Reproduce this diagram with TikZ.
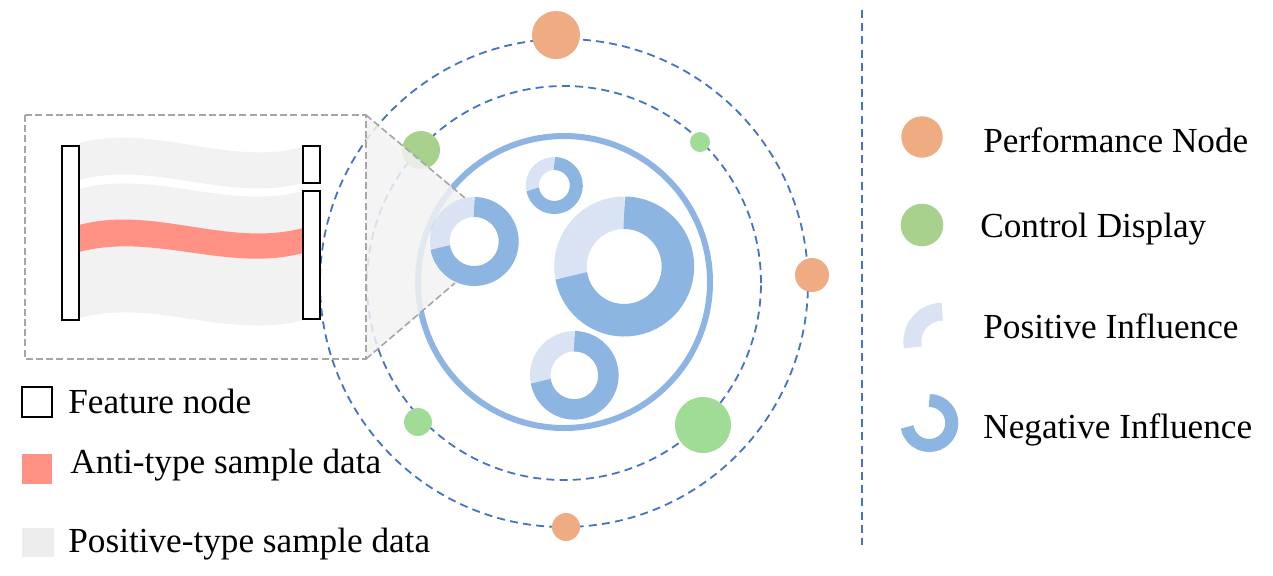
\documentclass[tikz,border=0pt]{standalone}
\usepackage{fontspec}
\setmainfont{Liberation Serif}
\definecolor{orbitblue}{HTML}{4472C4}
\definecolor{ringblue}{HTML}{8DB4E2}
\definecolor{darkdonut}{HTML}{8CB5E1}
\definecolor{lightdonut}{HTML}{DAE3F3}
\definecolor{orangeN}{HTML}{EFAB82}
\definecolor{greenA}{HTML}{A9D18E}
\definecolor{greenB}{HTML}{A1DC96}
\definecolor{redflow}{HTML}{FF9185}
\definecolor{grayflow}{HTML}{F2F2F2}
\definecolor{graylegend}{HTML}{EDEDED}
\definecolor{boxgray}{HTML}{A6A6A6}
\newcommand\mydonut[4]{%
  \pgfmathsetmacro\dmid{(#3+#4)/2}%
  \pgfmathsetmacro\dwid{(#3-#4)*0.5}%
  \draw[lightdonut, line width=\dwid pt] (#1,#2) ++(90:\dmid) arc[start angle=90,end angle=190.5,radius=\dmid];
  \draw[darkdonut, line width=\dwid pt] (#1,#2) ++(190:\dmid) arc[start angle=190,end angle=450,radius=\dmid];
}
\begin{document}
\begin{tikzpicture}[x=0.5pt,y=0.5pt,
  orbit/.style={orbitblue, line width=0.9pt, dash pattern=on 4pt off 2.6pt},
  boxline/.style={boxgray, line width=0.8pt, dash pattern=on 3.5pt off 1.6pt},
  dot/.style={circle, inner sep=0pt, draw=none},
  featurebox/.style={draw=black, fill=white, line width=1.2pt},
  label/.style={anchor=base west, inner sep=0pt, font=\fontsize{17.6pt}{21pt}\selectfont}]
\useasboundingbox (0,0) rectangle (1273,-575);

% orbits
\draw[orbit] (564,-283) circle[radius=244];
\draw[orbit] (564,-283) circle[radius=197];
% big blue ring
\draw[ringblue, line width=3pt] (564,-282) circle[radius=146];

% orbit nodes
\node[dot, fill=orangeN, minimum size=24pt] (p1) at (556,-35) {};
\node[dot, fill=orangeN, minimum size=17pt] (p2) at (812,-275) {};
\node[dot, fill=orangeN, minimum size=14pt] (p3) at (566,-527) {};
\node[dot, fill=greenA, minimum size=19pt] (g1) at (421,-150) {};
\node[dot, fill=greenB, minimum size=10pt] (g2) at (700,-142) {};
\node[dot, fill=greenB, minimum size=14pt] (g3) at (418,-422) {};
\node[dot, fill=greenB, minimum size=28pt] (g4) at (703,-425) {};

% zoom wedge
\coordinate (bxtr) at (366,-115);
\coordinate (bxbr) at (366,-359);
\coordinate (wt) at (465,-198);
\coordinate (wb) at (455,-283);
\fill[grayflow, opacity=0.85] (bxtr) -- (wt) arc[start angle=101.6,end angle=245.1,radius=45] -- (bxbr) -- cycle;
\draw[boxline] (bxtr) -- (wt);
\draw[boxline] (bxbr) -- (wb);

% donuts
\mydonut{554.3}{-185.5}{28.5}{15.5}
\mydonut{474.2}{-241.5}{44.5}{24.5}
\mydonut{624.2}{-266.5}{70}{37.5}
\mydonut{574.3}{-375.3}{44.3}{23.8}

% detail box
\draw[boxline] (25,-115) rectangle (366,-359);
\fill[grayflow] (79,-143) .. controls (154,-123) and (228,-167) .. (303,-147)
  -- (303,-183) .. controls (228,-203) and (154,-160) .. (79,-180) -- cycle;
\fill[grayflow] (79,-189) .. controls (154,-169) and (228,-211) .. (303,-191)
  -- (303,-320) .. controls (228,-340) and (154,-298) .. (79,-318) -- cycle;
\fill[redflow] (79,-225) .. controls (154,-205) and (228,-248) .. (303,-228)
  -- (303,-253) .. controls (228,-273) and (154,-232) .. (79,-252) -- cycle;
\draw[featurebox] (62,-146) rectangle (79,-320);
\draw[featurebox] (303,-146) rectangle (320,-183);
\draw[featurebox] (303,-191) rectangle (320,-319);

% left legend
\draw[black, line width=1.2pt] (22,-387) rectangle (52,-417);
\node[label] (lf) at (68,-413) {Feature node};
\fill[redflow] (22,-454) rectangle (52,-484);
\node[label] (la) at (70,-473) {Anti-type sample data};
\fill[graylegend] (22,-528) rectangle (54,-557);
\node[label] (lp) at (68,-552) {Positive-type sample data};

% separator
\coordinate (vtop) at (862,-10);
\coordinate (vbot) at (862,-545);
\draw[orbit] (vtop) -- (vbot);

% right legend
\node[dot, fill=orangeN, minimum size=20.7pt] (lo) at (922,-137) {};
\node[label] (tp) at (983,-152) {Performance Node};
\node[dot, fill=greenA, minimum size=21.3pt] (lg) at (922,-225) {};
\node[label] (tc) at (980,-237) {Control Display};
\pgfmathsetmacro\pmid{(39+21)/2}
\draw[lightdonut, line width=9pt] (942.3,-341.7) ++(90:\pmid) arc[start angle=90,end angle=191,radius=\pmid];
\node[label] (tpi) at (983,-338) {Positive Influence};
\pgfmathsetmacro\nmid{(29+16)/2}
\draw[darkdonut, line width=6.5pt] (929.3,-423) ++(190:\nmid) arc[start angle=190,end angle=450,radius=\nmid];
\node[label] (tni) at (983,-438) {Negative Influence};
\end{tikzpicture}
\end{document}
